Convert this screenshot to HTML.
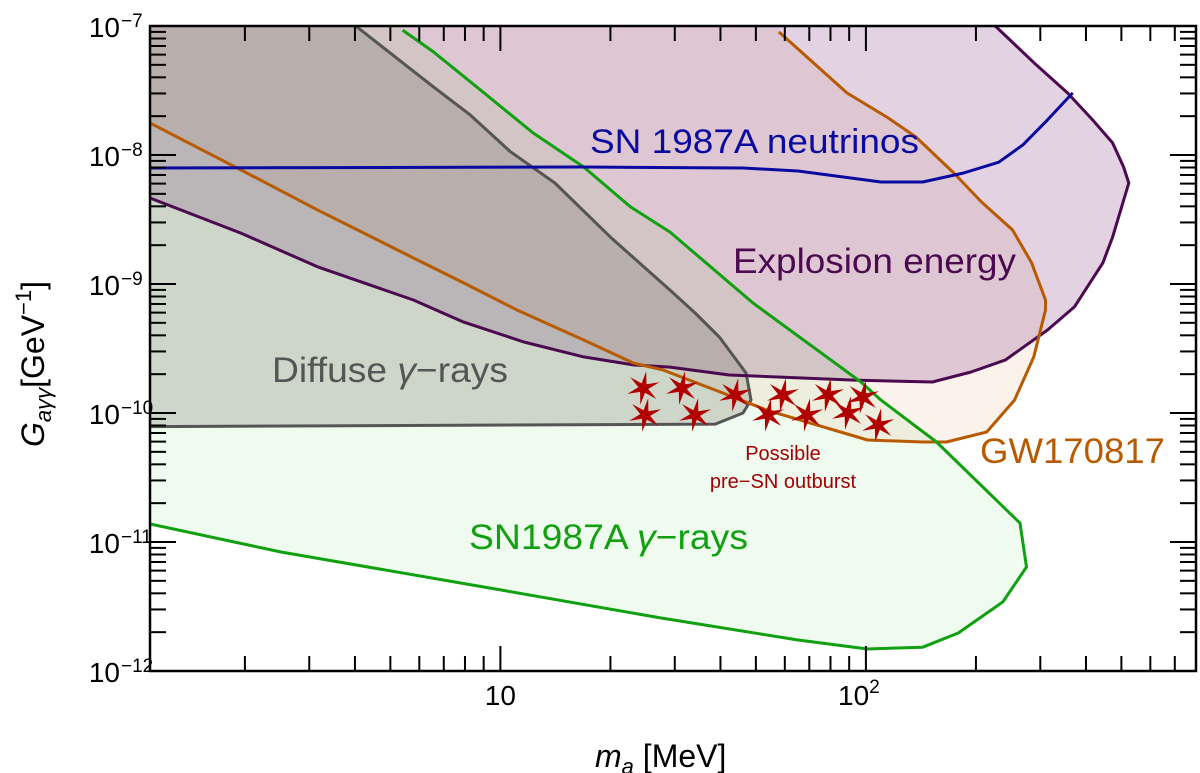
<!DOCTYPE html>
<html><head><meta charset="utf-8"><style>
html,body{margin:0;padding:0;background:#fff;}
svg{display:block;}
text{font-family:"Liberation Sans",Arial,sans-serif;}
</style></head><body>
<svg id="chart" width="1200" height="773" viewBox="0 0 1200 773" xmlns="http://www.w3.org/2000/svg">
<defs><clipPath id="plotclip"><rect x="150" y="26" width="1046" height="645"/></clipPath></defs>
<g id="fills" clip-path="url(#plotclip)"></g>
<g id="lines" clip-path="url(#plotclip)"></g>
<g id="stars"></g>
<g id="axes"></g>
<g id="labels">
  <text x="590" y="153" font-size="34" fill="#0a0aa0" textLength="329" lengthAdjust="spacingAndGlyphs">SN 1987A neutrinos</text>
  <text x="733" y="273" font-size="35" fill="#4b0a50" textLength="283" lengthAdjust="spacingAndGlyphs">Explosion energy</text>
  <text x="272" y="382" font-size="35" fill="#555555" textLength="236" lengthAdjust="spacingAndGlyphs">Diffuse <tspan font-style="italic">γ</tspan>−rays</text>
  <text x="469" y="549" font-size="35" fill="#10a010" textLength="279" lengthAdjust="spacingAndGlyphs">SN1987A <tspan font-style="italic">γ</tspan>−rays</text>
  <text x="980" y="463" font-size="35" fill="#b85a00" textLength="185" lengthAdjust="spacingAndGlyphs">GW170817</text>
  <text x="783" y="460" font-size="20" fill="#a00000" text-anchor="middle">Possible</text>
  <text x="783" y="488" font-size="20" fill="#a00000" text-anchor="middle">pre−SN outburst</text>
</g>
<g id="titles">
  <text x="595" y="767" font-size="32"><tspan font-style="italic">m</tspan><tspan font-style="italic" font-size="22" dy="7">a</tspan><tspan dy="-7"> [MeV]</tspan></text>
  <text transform="translate(44,447) rotate(-90)" font-size="32"><tspan font-style="italic">G</tspan><tspan font-style="italic" font-size="22" dy="7">aγγ</tspan><tspan dy="-7">[GeV</tspan><tspan font-size="22" dy="-13">−1</tspan><tspan dy="13">]</tspan></text>
</g>
</svg>
<script>
// ---- data (mass in MeV, coupling in GeV^-1) ----
const diffuseMass = [4.02,6.56,8.28,10.65,14.1,20.0,29.1,34.1,39.7,43.6,47.0,48.5,46.1,38.7,1.1];
const diffuseG = [1e-7,3.37e-8,2.04e-8,1.06e-8,6.07e-9,2.31e-9,8.98e-10,5.96e-10,3.88e-10,2.72e-10,2.04e-10,1.26e-10,1.0e-10,8.2e-11,7.85e-11];
const gammaMass = [5.40,6.56,8.82,12.3,16.9,22.7,29.1,49.1,96.9,110,156,264,275,237,179,143,101,65.2,27.4,10,2.51,1.1];
const gammaG = [9.3e-8,6.3e-8,3.19e-8,1.48e-8,8.07e-9,3.96e-9,2.53e-9,7.13e-10,1.74e-10,1.26e-10,5.96e-11,1.40e-11,6.40e-12,3.43e-12,1.97e-12,1.53e-12,1.48e-12,1.74e-12,2.58e-12,4.25e-12,8.36e-12,1.38e-11];
const explosionMass = [1.1,1.95,3.16,5.78,7.93,11.6,16.9,23.1,29.1,42.3,92.7,152,194,241,314,372,445,473,524,507,473,417,356,288,226];
const explosionG = [4.64e-9,2.48e-9,1.36e-9,7.52e-10,5.07e-10,3.55e-10,2.72e-10,2.36e-10,2.27e-10,1.97e-10,1.80e-10,1.74e-10,2.08e-10,2.58e-10,4.40e-10,6.64e-10,1.46e-9,2.31e-9,6.07e-9,8.07e-9,1.24e-8,1.87e-8,3.03e-8,5.2e-8,1e-7];
const neutrinoMass = [1.1,16.9,46.1,65.2,110,143,185,231,269,314,368];
const neutrinoG = [7.93e-9,8.07e-9,7.93e-9,7.52e-9,6.18e-9,6.18e-9,7.25e-9,8.8e-9,1.20e-8,1.87e-8,3.03e-8];
const gwMass = [1.1,1.95,3.16,5.43,7.93,11.1,16.9,23.1,27.9,40.6,53.7,101,143,166,214,255,288,310,310,284,252,207,174,137,115,88.7,57.8];
const gwG = [1.77e-8,7.66e-9,3.75e-9,1.74e-9,1.02e-9,6.29e-10,3.68e-10,2.44e-10,2.15e-10,1.43e-10,1.05e-10,6.18e-11,5.96e-11,5.96e-11,7.13e-11,1.26e-10,2.72e-10,6.29e-10,7.52e-10,1.46e-9,2.62e-9,4.33e-9,7.25e-9,1.38e-8,1.94e-8,3.03e-8,9.0e-8];
const starMass = [24.6,24.9,31.4,34.1,43.9,54.0,59.3,69.0,78.7,89.3,98.1,108];
const starG = [1.56e-10,9.65e-11,1.56e-10,9.65e-11,1.38e-10,9.65e-11,1.38e-10,9.65e-11,1.38e-10,1.0e-10,1.33e-10,8.07e-11];
const xMajorTicks = [10,100];
const xMajorLabels = [["10",""],["10","2"]];
const yDecades = [-12,-11,-10,-9,-8,-7];

const NS = "http://www.w3.org/2000/svg";
const X0=150, X1=1196, Y0=26, Y1=671;
const XMIN=Math.log10(1.1), XMAX=Math.log10(800);
function xs(m){return X0+(Math.log10(m)-XMIN)/(XMAX-XMIN)*(X1-X0);}
function ys(g){return Y0+(-7-Math.log10(g))/5*(Y1-Y0);}
function pts(ms,gs){return ms.map((m,i)=>xs(m).toFixed(1)+","+ys(gs[i]).toFixed(1)).join(" ");}
function mk(tag,parent){const e=document.createElementNS(NS,tag);document.getElementById(parent).appendChild(e);return e;}

// fills
let f;
f=mk("polygon","fills");


f.setAttribute("points",pts(gammaMass,gammaG)+" "+pts([1.1,5.3],[1e-7,1e-7]));
f.setAttribute("fill","rgba(170,235,170,0.18)");
f=mk("polygon","fills");


f.setAttribute("points",pts(gwMass,gwG)+" "+pts([58.5,1.1],[1e-7,1e-7]));
f.setAttribute("fill","rgba(220,130,60,0.1)");
f=mk("polygon","fills");


f.setAttribute("points",pts(explosionMass,explosionG)+" "+pts([1.1],[1e-7]));
f.setAttribute("fill","rgba(110,30,110,0.2)");
f=mk("polygon","fills");


f.setAttribute("points",pts(diffuseMass,diffuseG)+" "+pts([1.1],[1e-7]));
f.setAttribute("fill","rgba(115,118,100,0.28)");

// lines
function line(ms,gs,color,name){
  const l=mk("polyline","lines");
  
  
  l.setAttribute("points",pts(ms,gs));
  l.setAttribute("fill","none");l.setAttribute("stroke",color);l.setAttribute("stroke-width","3");l.setAttribute("stroke-linejoin","round");
}
line(diffuseMass,diffuseG,"#555555","diffuse-gamma-line");
line(explosionMass,explosionG,"#4b0a50","explosion-energy-line");
line(gwMass,gwG,"#b85a00","gw170817-line");
line(gammaMass,gammaG,"#10a010","sn1987a-gamma-line");
line(neutrinoMass,neutrinoG,"#0a0aa0","sn1987a-neutrinos-line");

// stars
starMass.forEach((m,i)=>{
  const cx=xs(m), cy=ys(starG[i]);
  let p=[];
  for(let k=0;k<12;k++){const r=k%2?5:17;const a=(k*30+10)*Math.PI/180;p.push((cx+r*Math.sin(a)).toFixed(1)+","+(cy-r*Math.cos(a)).toFixed(1));}
  const s=mk("polygon","stars");
  
  
  s.setAttribute("points",p.join(" "));s.setAttribute("fill","#b00000");
});

// axes frame
const fr=mk("rect","axes");


fr.setAttribute("x",X0);fr.setAttribute("y",Y0);fr.setAttribute("width",X1-X0);fr.setAttribute("height",Y1-Y0);
fr.setAttribute("fill","none");fr.setAttribute("stroke","#000");fr.setAttribute("stroke-width","2.5");
function tick(x1,y1,x2,y2){const t=mk("line","axes");
  
  
  t.setAttribute("x1",x1);t.setAttribute("y1",y1);t.setAttribute("x2",x2);t.setAttribute("y2",y2);t.setAttribute("stroke","#000");t.setAttribute("stroke-width","2");}
// x ticks
for(let d=0;d<=2;d++){for(let k=1;k<=9;k++){const m=k*Math.pow(10,d);if(m<1.1||m>800)continue;const x=xs(m);const L=(k===1)?25:15;tick(x,Y1,x,Y1-L);tick(x,Y0,x,Y0+L);}}
xMajorTicks.forEach((m,i)=>{
  const t=mk("text","axes");
  
  
  t.setAttribute("x",xs(m)-(xMajorLabels[i][1]?7:0));t.setAttribute("y",705);t.setAttribute("font-size","28");t.setAttribute("text-anchor","middle");
  t.innerHTML=xMajorLabels[i][0]+(xMajorLabels[i][1]?'<tspan font-size="19" dy="-12">'+xMajorLabels[i][1]+'</tspan>':'');
});
// y ticks
yDecades.forEach(d=>{
  for(let k=1;k<=9;k++){if(d===-7&&k>1)continue;const y=ys(k*Math.pow(10,d));const L=(k===1)?26:16;tick(X0,y,X0+L,y);tick(X1,y,X1-L,y);}
  const y=ys(Math.pow(10,d));
  const t=mk("text","axes");
  
  
  t.setAttribute("x",120);t.setAttribute("y",y+11);t.setAttribute("font-size","28");t.setAttribute("text-anchor","end");t.textContent="10";
  const e=mk("text","axes");
  
  
  e.setAttribute("x",121);e.setAttribute("y",y+1);e.setAttribute("font-size","19");e.textContent="−"+(-d);
});
</script>
</body></html>
